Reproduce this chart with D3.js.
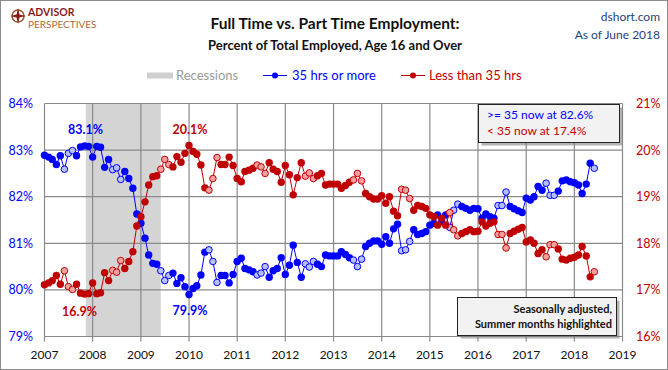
<!DOCTYPE html>
<html>
<head>
<meta charset="utf-8">
<script src="https://cdn.jsdelivr.net/npm/d3@7"></script>
<style>
  body { margin: 0; background: #fff; }
  text { font-family: Lato, "Open Sans", sans-serif; }
</style>
</head>
<body>
<div id="chart"></div>
<script>
// Monthly shares of total employed, Jan 2007 .. Jun 2018
const fullTime = [
  82.89, 82.85, 82.80, 82.69, 82.88, 82.59, 82.93, 82.99, 82.88, 83.07, 83.09, 83.08,
  82.85, 83.08, 83.06, 82.63, 82.80, 82.58, 82.62, 82.37, 82.54, 82.39, 82.18, 81.63,
  81.43, 81.11, 80.75, 80.57, 80.55, 80.41, 80.20, 80.31, 80.36, 80.14, 80.26, 80.07,
  79.90, 80.03, 80.09, 80.32, 80.81, 80.86, 80.61, 80.16, 80.31, 80.31, 80.15, 80.33,
  80.61, 80.68, 80.46, 80.43, 80.39, 80.32, 80.36, 80.50, 80.27, 80.41, 80.46, 80.69,
  80.33, 80.53, 80.96, 80.59, 80.27, 80.56, 80.49, 80.61, 80.55, 80.50, 80.75, 80.73,
  80.73, 80.73, 80.82, 80.76, 80.69, 80.64, 80.50, 80.66, 80.93, 81.00, 81.05, 81.05,
  80.98, 81.14, 81.00, 81.31, 81.41, 80.84, 80.86, 81.04, 81.29, 81.19, 81.21, 81.25,
  81.39, 81.43, 81.61, 81.46, 81.61, 81.34, 81.71, 81.84, 81.79, 81.75, 81.71, 81.75,
  81.74, 81.54, 81.63, 81.57, 81.54, 81.81, 81.81, 82.10, 81.79, 81.74, 81.70, 81.66,
  81.97, 81.93, 82.00, 82.22, 82.14, 82.29, 82.03, 82.03, 82.12, 82.34, 82.36, 82.32,
  82.30, 82.25, 82.07, 82.27, 82.72, 82.61
];
const partTime = [
  17.11, 17.15, 17.20, 17.31, 17.12, 17.41, 17.07, 17.01, 17.12, 16.93, 16.91, 16.92,
  17.15, 16.92, 16.94, 17.37, 17.20, 17.42, 17.38, 17.63, 17.46, 17.61, 17.82, 18.37,
  18.57, 18.89, 19.25, 19.43, 19.45, 19.59, 19.80, 19.69, 19.64, 19.86, 19.74, 19.93,
  20.10, 19.97, 19.91, 19.68, 19.19, 19.14, 19.39, 19.84, 19.69, 19.69, 19.85, 19.67,
  19.39, 19.32, 19.54, 19.57, 19.61, 19.68, 19.64, 19.50, 19.73, 19.59, 19.54, 19.31,
  19.67, 19.47, 19.04, 19.41, 19.73, 19.44, 19.51, 19.39, 19.45, 19.50, 19.25, 19.27,
  19.27, 19.27, 19.18, 19.24, 19.31, 19.36, 19.50, 19.34, 19.07, 19.00, 18.95, 18.95,
  19.02, 18.86, 19.00, 18.69, 18.59, 19.16, 19.14, 18.96, 18.71, 18.81, 18.79, 18.75,
  18.61, 18.57, 18.39, 18.54, 18.39, 18.66, 18.29, 18.16, 18.21, 18.25, 18.29, 18.25,
  18.26, 18.46, 18.37, 18.43, 18.46, 18.19, 18.19, 17.90, 18.21, 18.26, 18.30, 18.34,
  18.03, 18.07, 18.00, 17.78, 17.86, 17.71, 17.97, 17.97, 17.88, 17.66, 17.64, 17.68,
  17.70, 17.75, 17.93, 17.73, 17.28, 17.39
];
const months = fullTime.map((v, i) => new Date(2007, i, 1));
const yearTicks = [2007, 2008, 2009, 2010, 2011, 2012, 2013, 2014, 2015, 2016, 2017, 2018, 2019];
const leftTicks = [79, 80, 81, 82, 83, 84];
const rightTicks = [16, 17, 18, 19, 20, 21];
const recession = [new Date(2007, 10, 10), new Date(2009, 5, 1)];
const summerMonths = [5, 6, 7]; // Jun, Jul, Aug

const width = 668, height = 370;
const blue = "#0000ff", red = "#c00000";

const svg = d3.select("#chart").append("svg")
    .attr("width", width)
    .attr("height", height);

svg.append("rect")
    .attr("x", 0.5).attr("y", 0.5)
    .attr("width", width - 1).attr("height", height - 1)
    .attr("fill", "#fff").attr("stroke", "#8c8c8c");

// scales
const x = d3.scaleTime()
    .domain([new Date(2007, 0, 1), new Date(2019, 0, 1)])
    .range([44.5, 622.5]);
const yL = d3.scaleLinear().domain([79, 84]).range([336.5, 103.5]);
const yR = d3.scaleLinear().domain([16, 21]).range([336.5, 103.5]);

// recession band
svg.append("rect")
    .attr("x", x(recession[0]))
    .attr("y", yL(84))
    .attr("width", x(recession[1]) - x(recession[0]))
    .attr("height", yL(79) - yL(84))
    .attr("fill", "#d4d4d4");

// grid
const grid = svg.append("g").attr("stroke", "#8a8a8a").attr("stroke-width", 1.2);
grid.selectAll("line.h").data(leftTicks).enter().append("line")
    .attr("x1", x.range()[0]).attr("x2", x.range()[1])
    .attr("y1", d => yL(d)).attr("y2", d => yL(d));
grid.selectAll("line.v").data(yearTicks).enter().append("line")
    .attr("x1", d => x(new Date(d, 0, 1))).attr("x2", d => x(new Date(d, 0, 1)))
    .attr("y1", yL(84)).attr("y2", yL(79) + 5);

// axes labels
svg.append("g").selectAll("text").data(leftTicks).enter().append("text")
    .attr("x", 33).attr("y", d => yL(d) + 4.5)
    .attr("text-anchor", "end").attr("font-size", 12.5).attr("fill", blue)
    .text(d => d + "%");
svg.append("g").selectAll("text").data(rightTicks).enter().append("text")
    .attr("x", 636).attr("y", d => yR(d) + 4.5)
    .attr("font-size", 12.5).attr("fill", red)
    .text(d => d + "%");
svg.append("g").selectAll("text").data(yearTicks).enter().append("text")
    .attr("x", d => x(new Date(d, 0, 1))).attr("y", 359)
    .attr("text-anchor", "middle").attr("font-size", 12).attr("fill", "#111")
    .text(d => d);

// series
function drawSeries(values, y, color, light) {
    const pts = values.map((v, i) => ({ date: months[i], v: v, summer: summerMonths.includes(i % 12) }));
    svg.append("path").datum(pts)
        .attr("fill", "none").attr("stroke", color).attr("stroke-width", 1)
        .attr("d", d3.line().x(d => x(d.date)).y(d => y(d.v)));
    svg.append("g").selectAll("circle").data(pts).enter().append("circle")
        .attr("cx", d => x(d.date)).attr("cy", d => y(d.v))
        .attr("r", d => d.summer ? 3.3 : 3.7)
        .attr("fill", d => d.summer ? light : color)
        .attr("stroke", color).attr("stroke-width", d => d.summer ? 1 : 0);
}
drawSeries(fullTime, yL, blue, "#b4c0ff");
drawSeries(partTime, yR, red, "#f4a0a0");

// value labels
const fmt = d3.format(".1f");
const iMax = d3.maxIndex(fullTime), iMin = d3.minIndex(fullTime);
const iPmax = d3.maxIndex(partTime), iPmin = d3.minIndex(partTime);
const labels = [
    { t: fmt(fullTime[iMax]) + "%", x: x(months[iMax]) + 1, y: 134, c: blue },
    { t: fmt(partTime[iPmax]) + "%", x: x(months[iPmax]) + 1, y: 134, c: red },
    { t: fmt(partTime[iPmin]) + "%", x: x(months[iPmin]) - 5, y: 316, c: red },
    { t: fmt(fullTime[iMin]) + "%", x: x(months[iMin]) + 1, y: 315, c: blue }
];
svg.append("g").selectAll("text").data(labels).enter().append("text")
    .attr("x", d => d.x).attr("y", d => d.y)
    .attr("text-anchor", "middle").attr("font-size", 12.5).attr("font-weight", "bold")
    .attr("fill", d => d.c).text(d => d.t);

// boxes with shadow
function box(x0, y0, w, h) {
    svg.append("rect").attr("x", x0 + 3).attr("y", y0 + 3).attr("width", w).attr("height", h)
        .attr("fill", "#777").attr("opacity", 0.55);
    svg.append("rect").attr("x", x0).attr("y", y0).attr("width", w).attr("height", h)
        .attr("fill", "#f2f2f2").attr("stroke", "#222").attr("stroke-width", 1);
}
box(478.5, 104.5, 141, 38);
svg.append("text").attr("x", 487).attr("y", 119).attr("font-size", 12).attr("fill", blue)
    .text(">= 35 now at " + fmt(fullTime[fullTime.length - 1]) + "%");
svg.append("text").attr("x", 487).attr("y", 135).attr("font-size", 12).attr("fill", red)
    .text("< 35 now at " + fmt(partTime[partTime.length - 1]) + "%");

box(457.5, 297.5, 159, 38);
svg.append("text").attr("x", 612).attr("y", 313).attr("text-anchor", "end")
    .attr("font-size", 11).attr("font-weight", "bold").attr("fill", "#111")
    .text("Seasonally adjusted,");
svg.append("text").attr("x", 612).attr("y", 328).attr("text-anchor", "end")
    .attr("font-size", 11).attr("font-weight", "bold").attr("fill", "#111")
    .text("Summer months highlighted");

// legend
svg.append("rect").attr("x", 147).attr("y", 72.5).attr("width", 26).attr("height", 6).attr("fill", "#cfcfcf");
svg.append("text").attr("x", 176).attr("y", 80).attr("font-size", 13).attr("fill", "#9a9a9a").text("Recessions");
svg.append("line").attr("x1", 263).attr("x2", 287).attr("y1", 75.5).attr("y2", 75.5).attr("stroke", blue);
svg.append("circle").attr("cx", 275).attr("cy", 75.5).attr("r", 3).attr("fill", blue);
svg.append("text").attr("x", 292).attr("y", 80).attr("font-size", 13).attr("fill", blue).text("35 hrs or more");
svg.append("line").attr("x1", 401).attr("x2", 425).attr("y1", 75.5).attr("y2", 75.5).attr("stroke", red);
svg.append("circle").attr("cx", 413).attr("cy", 75.5).attr("r", 3).attr("fill", red);
svg.append("text").attr("x", 429).attr("y", 80).attr("font-size", 13).attr("fill", red).text("Less than 35 hrs");

// titles
svg.append("text").attr("x", 335).attr("y", 29).attr("text-anchor", "middle")
    .attr("font-size", 15.5).attr("font-weight", "bold").attr("fill", "#111")
    .text("Full Time vs. Part Time Employment:");
svg.append("text").attr("x", 335).attr("y", 50).attr("text-anchor", "middle")
    .attr("font-size", 13).attr("font-weight", "bold").attr("fill", "#111")
    .text("Percent of Total Employed, Age 16 and Over");
svg.append("text").attr("x", 660).attr("y", 21).attr("text-anchor", "end")
    .attr("font-size", 12).attr("fill", "#1f3f7a").text("dshort.com");
svg.append("text").attr("x", 660).attr("y", 39).attr("text-anchor", "end")
    .attr("font-size", 12).attr("fill", "#1f3f7a").text("As of June 2018");

// logo
const logo = svg.append("g").attr("transform", "translate(18,16)");
logo.append("circle").attr("r", 6).attr("fill", "none").attr("stroke", "#a0522d").attr("stroke-width", 1.5);
logo.append("path").attr("d", "M0,-8 L1.5,-1.5 L8,0 L1.5,1.5 L0,8 L-1.5,1.5 L-8,0 L-1.5,-1.5 Z").attr("fill", "#8b1a1a");
svg.append("text").attr("x", 28).attr("y", 16).attr("font-size", 10.5).attr("font-weight", "bold")
    .attr("fill", "#8b1a1a").text("ADVISOR");
svg.append("text").attr("x", 28).attr("y", 28).attr("font-size", 10)
    .attr("fill", "#b06a3b").text("PERSPECTIVES");
</script>
</body>
</html>
